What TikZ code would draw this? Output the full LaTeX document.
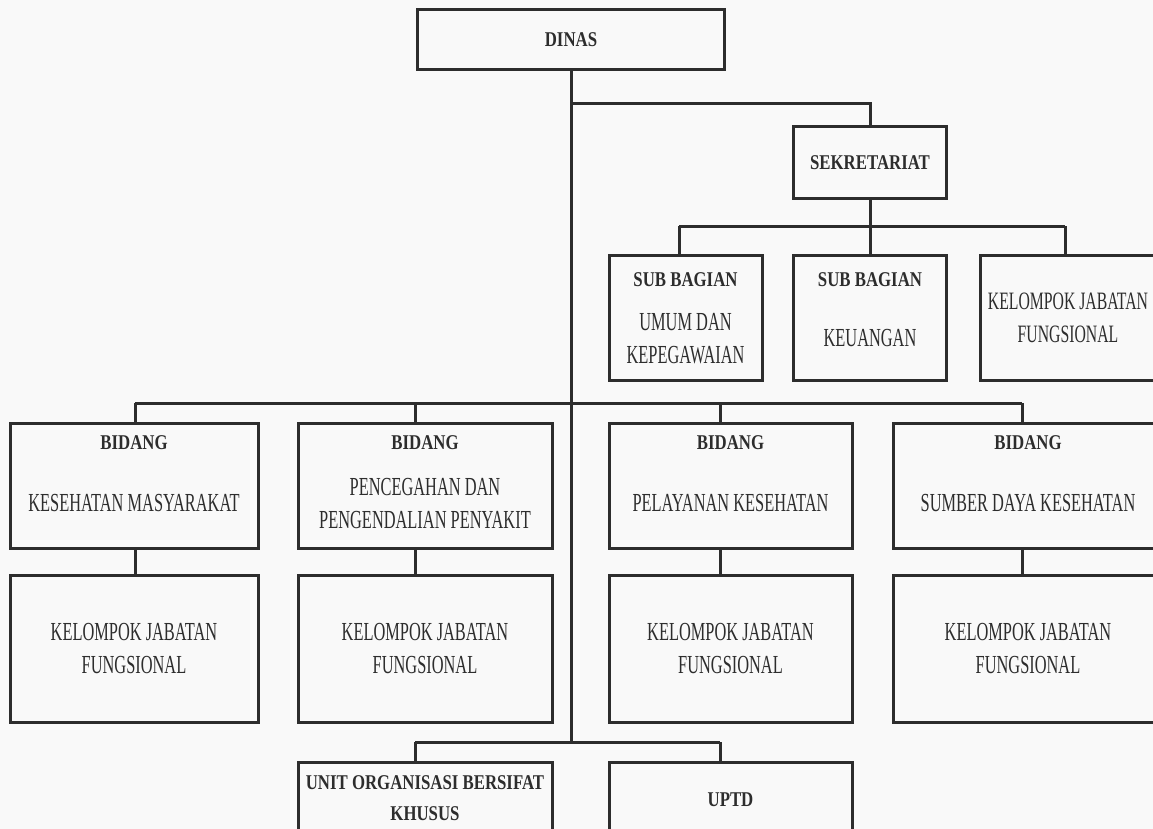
\documentclass[tikz,border=0pt]{standalone}
\usepackage{fontspec}
\usepackage{xcolor}
\usepackage{tikz}
\usetikzlibrary{positioning}
\newfontfamily\bodyfam[FakeStretch=0.63]{Liberation Serif}
\newfontfamily\headfam[FakeStretch=0.8]{Liberation Serif}
\definecolor{linegray}{RGB}{45,45,45}
\definecolor{inkgray}{RGB}{45,45,45}
\definecolor{paper}{RGB}{249,249,249}

\tikzset{
  orgbox/.style={draw=linegray, line width=3pt, inner sep=0pt, outer sep=0pt},
  headtxt/.style={font=\headfam\bfseries\fontsize{21}{31}\selectfont, text=inkgray, align=center, inner sep=0pt},
  bodytxt/.style={font=\bodyfam\fontsize{26}{33}\selectfont, text=inkgray, align=center, inner sep=0pt},
  link/.style={draw=linegray, line width=3pt}
}

\begin{document}
\begin{tikzpicture}[x=1pt, y=-1pt, node distance=27pt]
        \useasboundingbox (0,0) rectangle (1153,829);
        \fill[paper] (0,0) rectangle (1153,829);
        \clip (0,0) rectangle (1153,829);

        % top
        \node[orgbox, headtxt, minimum width=307, minimum height=60] (dinas) at (571,40) {DINAS};
        \node[orgbox, headtxt, minimum width=153, minimum height=72] (sekr) at (870,163) {SEKRETARIAT};

        % sekretariat row
        \node[orgbox, minimum width=153, minimum height=125] (subum) at (685.5,317.5) {};
        \node[orgbox, minimum width=153, minimum height=125] (subkeu) at (870,317.5) {};
        \node[orgbox, bodytxt, font=\bodyfam\fontsize{25}{33}\selectfont, minimum width=176, minimum height=125] (kjfsek) at (1068,317.5) {KELOMPOK JABATAN\\FUNGSIONAL};
        \node[headtxt] (subumhead) at ([yshift=-25]subum.north) {SUB BAGIAN};
        \node[bodytxt] (subumbody) at ([yshift=-21]subum.center) {UMUM DAN\\KEPEGAWAIAN};
        \node[headtxt] (subkeuhead) at ([yshift=-25]subkeu.north) {SUB BAGIAN};
        \node[bodytxt] (subkeubody) at ([yshift=-20.5]subkeu.center) {KEUANGAN};

        % bidang row
        \node[orgbox, minimum width=248, minimum height=125] (bid1) at (134,485.5) {};
        \node[orgbox, minimum width=254, minimum height=125] (bid2) at (425,485.5) {};
        \node[orgbox, minimum width=243, minimum height=125] (bid3) at (730.5,485.5) {};
        \node[orgbox, minimum width=270, minimum height=125] (bid4) at (1028,485.5) {};
        \foreach \b/\txt in {bid1/KESEHATAN MASYARAKAT, bid2/{PENCEGAHAN DAN\\PENGENDALIAN PENYAKIT},
                             bid3/PELAYANAN KESEHATAN, bid4/SUMBER DAYA KESEHATAN} {
            \node[headtxt] (\b head) at ([yshift=-20]\b.north) {BIDANG};
            \node[bodytxt] (\b body) at ([yshift=-18]\b.center) {\txt};
        }

        % kelompok jabatan fungsional
        \node[orgbox, bodytxt, minimum width=248, minimum height=147, below=of bid1] (kjf1) {KELOMPOK JABATAN\\FUNGSIONAL};
        \node[orgbox, bodytxt, minimum width=254, minimum height=147, below=of bid2] (kjf2) {KELOMPOK JABATAN\\FUNGSIONAL};
        \node[orgbox, bodytxt, minimum width=243, minimum height=147, below=of bid3] (kjf3) {KELOMPOK JABATAN\\FUNGSIONAL};
        \node[orgbox, bodytxt, minimum width=270, minimum height=147, below=of bid4] (kjf4) {KELOMPOK JABATAN\\FUNGSIONAL};

        % bottom
        \node[orgbox, minimum width=254, minimum height=125, below=40pt of kjf2] (unit) {};
        \node[orgbox, minimum width=243, minimum height=125, below=40pt of kjf3] (uptd) {};
        \node[headtxt] (unithead) at ([yshift=-36.5]unit.north) {UNIT ORGANISASI BERSIFAT\\KHUSUS};
        \node[headtxt] (uptdhead) at ([yshift=-38]uptd.north) {UPTD};

        % junctions
        \coordinate (jsek) at (571,104);
        \coordinate (s1) at (679,226);
        \coordinate (s3) at (1065,226);
        \coordinate (j1) at (135,403);
        \coordinate (j2) at (415,403);
        \coordinate (j3) at (720,403);
        \coordinate (j4) at (1022,403);
        \coordinate (k1) at (415,742);
        \coordinate (k2) at (720,742);

        % connectors
        \draw[link] (dinas.south) -- (dinas.south |- k1);
        \draw[link] (jsek) -| (sekr.north);
        \draw[link] (sekr.south) -- (subkeu.north);
        \draw[link] (s1) -- (s3);
        \draw[link] (s1) -- (s1 |- subum.north);
        \draw[link] (s3) -- (s3 |- kjfsek.north);
        \draw[link] (j1) -- (j4);
        \foreach \j/\n in {j1/1, j2/2, j3/3, j4/4} {
            \draw[link] (\j) -- (\j |- bid\n.north);
            \draw[link] (\j |- bid\n.south) -- (\j |- kjf\n.north);
        }
        \draw[link] (k1) -- (k2);
        \draw[link] (k1) -- (k1 |- unit.north);
        \draw[link] (k2) -- (k2 |- uptd.north);
\end{tikzpicture}
\end{document}
